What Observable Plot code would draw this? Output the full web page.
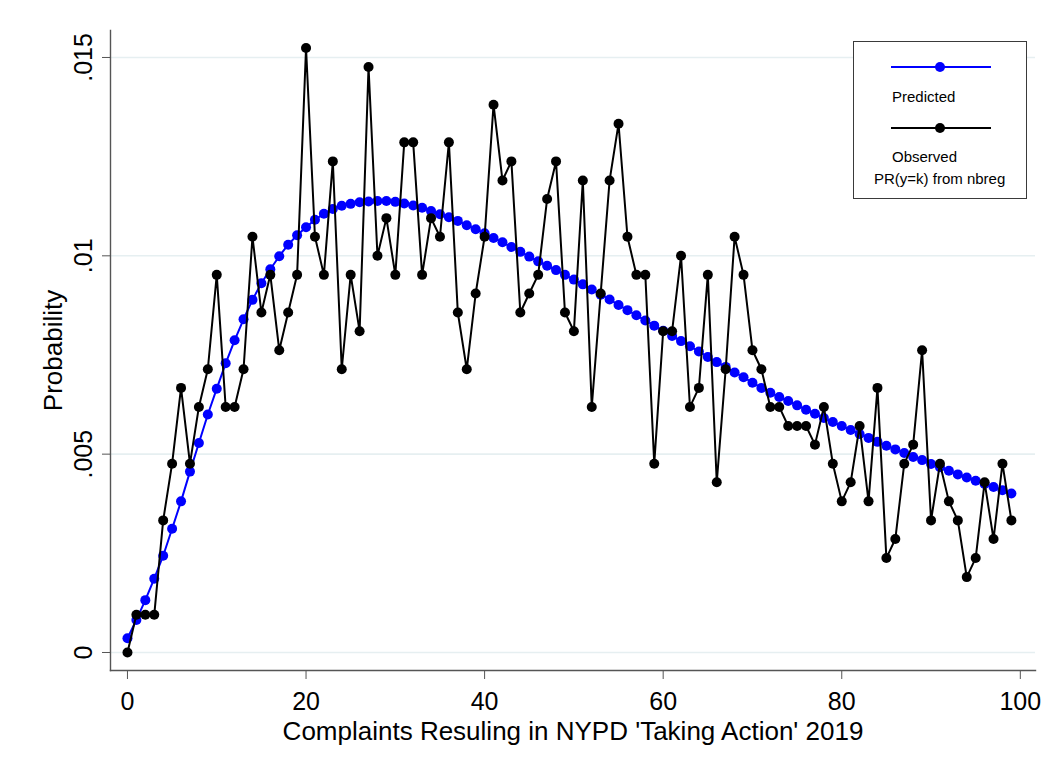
<!DOCTYPE html>
<html>
<head>
<meta charset="utf-8">
<script src="https://cdn.jsdelivr.net/npm/d3@7"></script>
<script src="https://cdn.jsdelivr.net/npm/@observablehq/plot@0.6"></script>
<style>
  html, body { margin: 0; padding: 0; background: #fff; }
  #chart { position: relative; width: 1053px; height: 769px; font-family: "Liberation Sans", Arial, sans-serif; }
  #legend { position: absolute; left: 853px; top: 41px; width: 172px; height: 156px; border: 1px solid #3a3a3a; background: #fff; }
  #legend svg { display: block; }
</style>
</head>
<body>
<div id="chart"><div id="legend"></div></div>
<script>
// Number of complaints (k)
const counts = [
  0, 1, 2, 3, 4, 5, 6, 7, 8, 9,
  10, 11, 12, 13, 14, 15, 16, 17, 18, 19,
  20, 21, 22, 23, 24, 25, 26, 27, 28, 29,
  30, 31, 32, 33, 34, 35, 36, 37, 38, 39,
  40, 41, 42, 43, 44, 45, 46, 47, 48, 49,
  50, 51, 52, 53, 54, 55, 56, 57, 58, 59,
  60, 61, 62, 63, 64, 65, 66, 67, 68, 69,
  70, 71, 72, 73, 74, 75, 76, 77, 78, 79,
  80, 81, 82, 83, 84, 85, 86, 87, 88, 89,
  90, 91, 92, 93, 94, 95, 96, 97, 98, 99
];

// Predicted Pr(y=k) from the negative binomial regression
const predicted = [
  0.00036, 0.00082, 0.00132, 0.00186, 0.00244, 0.00312, 0.00381, 0.00456, 0.00528, 0.00600,
  0.00665, 0.00729, 0.00787, 0.00840, 0.00889, 0.00931, 0.00966, 0.00999, 0.01028, 0.01052,
  0.01072, 0.01091, 0.01106, 0.01118, 0.01126, 0.01131, 0.01135, 0.01137, 0.01138, 0.01138,
  0.01136, 0.01132, 0.01127, 0.01121, 0.01113, 0.01105, 0.01097, 0.01088, 0.01077, 0.01067,
  0.01057, 0.01045, 0.01034, 0.01022, 0.01010, 0.00998, 0.00986, 0.00975, 0.00964, 0.00952,
  0.00940, 0.00928, 0.00915, 0.00902, 0.00890, 0.00876, 0.00863, 0.00850, 0.00837, 0.00824,
  0.00811, 0.00798, 0.00785, 0.00772, 0.00759, 0.00745, 0.00732, 0.00720, 0.00706, 0.00694,
  0.00680, 0.00667, 0.00655, 0.00644, 0.00634, 0.00623, 0.00612, 0.00602, 0.00591, 0.00581,
  0.00571, 0.00561, 0.00551, 0.00541, 0.00531, 0.00521, 0.00512, 0.00503, 0.00493, 0.00485,
  0.00475, 0.00467, 0.00458, 0.00449, 0.00441, 0.00433, 0.00425, 0.00417, 0.00409, 0.00401
];

// Observed share with exactly k complaints
const observed = [
  0.00000, 0.00095, 0.00095, 0.00095, 0.00333, 0.00476, 0.00667, 0.00476, 0.00619, 0.00714,
  0.00952, 0.00619, 0.00619, 0.00714, 0.01048, 0.00857, 0.00952, 0.00762, 0.00857, 0.00952,
  0.01524, 0.01048, 0.00952, 0.01238, 0.00714, 0.00952, 0.00810, 0.01476, 0.01000, 0.01095,
  0.00952, 0.01286, 0.01286, 0.00952, 0.01095, 0.01048, 0.01286, 0.00857, 0.00714, 0.00905,
  0.01048, 0.01381, 0.01190, 0.01238, 0.00857, 0.00905, 0.00952, 0.01143, 0.01238, 0.00857,
  0.00810, 0.01190, 0.00619, 0.00905, 0.01190, 0.01333, 0.01048, 0.00952, 0.00952, 0.00476,
  0.00810, 0.00810, 0.01000, 0.00619, 0.00667, 0.00952, 0.00429, 0.00714, 0.01048, 0.00952,
  0.00762, 0.00714, 0.00619, 0.00619, 0.00571, 0.00571, 0.00571, 0.00524, 0.00619, 0.00476,
  0.00381, 0.00429, 0.00571, 0.00381, 0.00667, 0.00238, 0.00286, 0.00476, 0.00524, 0.00762,
  0.00333, 0.00476, 0.00381, 0.00333, 0.00190, 0.00238, 0.00429, 0.00286, 0.00476, 0.00333
];

// Axis ticks and their labels
const xTicks = [0, 20, 40, 60, 80, 100];
const yTicks = [0, 0.005, 0.01, 0.015];
const yTickLabels = ["0", ".005", ".01", ".015"];

const xTitle = "Complaints Resuling in NYPD 'Taking Action' 2019";
const yTitle = "Probability";
const legendItems = ["Predicted", "Observed"];
const legendNote = "PR(y=k) from nbreg";

const rows = counts.map((k, i) => ({k, predicted: predicted[i], observed: observed[i]}));
const yLabelOf = new Map(yTicks.map((t, i) => [t, yTickLabels[i]]));

const font = '"Liberation Sans", Arial, sans-serif';
const axisGray = "#555555";

const chart = Plot.plot({
  width: 1053,
  height: 769,
  marginLeft: 110,
  marginRight: 18,
  marginTop: 30,
  marginBottom: 99,
  style: {fontFamily: font, fontSize: "25px", color: "#000", background: "#fff", overflow: "visible"},
  x: {domain: [-1.9, 101.7]},
  y: {domain: [-0.000454, 0.01568]},
  marks: [
    Plot.gridY(yTicks, {stroke: "#e6eff1", strokeOpacity: 1, strokeWidth: 1.6}),
    Plot.axisY(yTicks, {
      tickSize: 8, tickRotate: -90, tickPadding: 11,
      tickFormat: d => yLabelOf.get(d),
      stroke: axisGray, fill: "#000",
      label: null
    }),
    Plot.axisX(xTicks, {
      tickSize: 9, tickPadding: 13,
      stroke: axisGray, fill: "#000",
      label: null
    }),
    // axis titles
    Plot.text([xTitle], {
      text: d => d, frameAnchor: "bottom", textAnchor: "middle", lineAnchor: "bottom", dy: 69,
      fontSize: 26, fill: "#000"
    }),
    Plot.text([yTitle], {
      text: d => d, frameAnchor: "left", textAnchor: "middle", rotate: -90, lineAnchor: "top", dx: -67,
      fontSize: 26, fill: "#000"
    }),
    Plot.frame({anchor: "left", stroke: axisGray, strokeWidth: 1.4}),
    Plot.frame({anchor: "bottom", stroke: axisGray, strokeWidth: 1.4}),
    // predicted distribution
    Plot.line(rows, {x: "k", y: "predicted", stroke: "#0000ff", strokeWidth: 2}),
    Plot.dot(rows, {x: "k", y: "predicted", r: 5, fill: "#0000ff", stroke: "none"}),
    // observed distribution
    Plot.line(rows, {x: "k", y: "observed", stroke: "#000", strokeWidth: 2}),
    Plot.dot(rows, {x: "k", y: "observed", r: 5, fill: "#000", stroke: "none"})
  ]
});

const host = document.getElementById("chart");
host.insertBefore(chart, host.firstChild);

// Legend box: line-with-marker keys and their labels
const lg = d3.select("#legend").append("svg")
  .attr("width", 172).attr("height", 156)
  .style("font-family", font).style("font-size", "15px");

const keys = [
  {label: legendItems[0], color: "#0000ff", y: 25, ty: 60},
  {label: legendItems[1], color: "#000", y: 86, ty: 120}
];
keys.forEach(d => {
  lg.append("line").attr("x1", 37).attr("x2", 137).attr("y1", d.y).attr("y2", d.y)
    .attr("stroke", d.color).attr("stroke-width", 2);
  lg.append("circle").attr("cx", 86).attr("cy", d.y).attr("r", 5).attr("fill", d.color);
  lg.append("text").attr("x", 38).attr("y", d.ty).attr("fill", "#000").text(d.label);
});
lg.append("text").attr("x", 20).attr("y", 142).attr("fill", "#000").text(legendNote);
</script>
</body>
</html>
